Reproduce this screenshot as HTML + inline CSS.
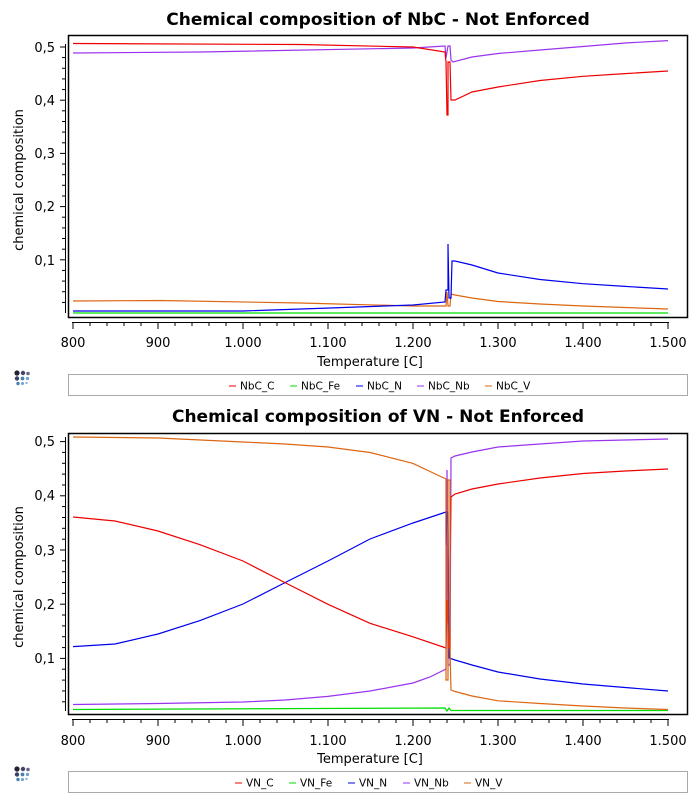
<!DOCTYPE html>
<html><head><meta charset="utf-8"><style>
html,body{margin:0;padding:0;background:#fff;}
svg{display:block;font-family:"DejaVu Sans","Liberation Sans",sans-serif;}
</style></head><body>
<svg width="697" height="802" viewBox="0 0 697 802" xmlns="http://www.w3.org/2000/svg">
<defs>
<g id="icon">
<circle cx="0" cy="0" r="2.6" fill="#223"/><circle cx="6" cy="0" r="2.2" fill="#446"/><circle cx="11" cy="0.5" r="1.8" fill="#668"/>
<circle cx="0" cy="5.5" r="2.2" fill="#346"/><circle cx="5.5" cy="5.5" r="1.9" fill="#4a7fb0"/><circle cx="10.5" cy="5.5" r="1.6" fill="#6a9fd0"/>
<circle cx="1" cy="10.5" r="1.7" fill="#4a7fb0"/><circle cx="5.5" cy="10.5" r="1.5" fill="#6a9fd0"/><circle cx="9.5" cy="10" r="1.2" fill="#8ab8e0"/>
</g>
</defs>

<!-- ===== TOP CHART ===== -->
<text x="378" y="25" text-anchor="middle" font-size="17" font-weight="bold">Chemical composition of NbC - Not Enforced</text>
<rect x="68.5" y="35.5" width="619" height="282" fill="none" stroke="#000" stroke-width="1.5"/>
<g stroke="#000" stroke-width="1">
<line x1="65.5" y1="44" x2="65.5" y2="313"/>
<line x1="60" y1="47" x2="65" y2="47"/><line x1="60" y1="100.2" x2="65" y2="100.2"/><line x1="60" y1="153.4" x2="65" y2="153.4"/><line x1="60" y1="206.6" x2="65" y2="206.6"/><line x1="60" y1="259.8" x2="65" y2="259.8"/>
<line x1="62" y1="57.6" x2="65" y2="57.6"/><line x1="62" y1="68.3" x2="65" y2="68.3"/><line x1="62" y1="78.9" x2="65" y2="78.9"/><line x1="62" y1="89.6" x2="65" y2="89.6"/>
<line x1="62" y1="110.8" x2="65" y2="110.8"/><line x1="62" y1="121.5" x2="65" y2="121.5"/><line x1="62" y1="132.1" x2="65" y2="132.1"/><line x1="62" y1="142.8" x2="65" y2="142.8"/>
<line x1="62" y1="164" x2="65" y2="164"/><line x1="62" y1="174.7" x2="65" y2="174.7"/><line x1="62" y1="185.3" x2="65" y2="185.3"/><line x1="62" y1="196" x2="65" y2="196"/>
<line x1="62" y1="217.2" x2="65" y2="217.2"/><line x1="62" y1="227.9" x2="65" y2="227.9"/><line x1="62" y1="238.5" x2="65" y2="238.5"/><line x1="62" y1="249.2" x2="65" y2="249.2"/>
<line x1="62" y1="270.4" x2="65" y2="270.4"/><line x1="62" y1="281.1" x2="65" y2="281.1"/><line x1="62" y1="291.7" x2="65" y2="291.7"/><line x1="62" y1="302.4" x2="65" y2="302.4"/>
<line x1="72" y1="322.5" x2="669" y2="322.5"/>
</g>
<g id="xt" stroke="#000" stroke-width="1">
<path d="M73 322v7M158 322v7M243 322v7M328 322v7M413 322v7M498 322v7M583 322v7M668 322v7"/>
<path d="M90 322v4M107 322v4M124 322v4M141 322v4M175 322v4M192 322v4M209 322v4M226 322v4M260 322v4M277 322v4M294 322v4M311 322v4M345 322v4M362 322v4M379 322v4M396 322v4M430 322v4M447 322v4M464 322v4M481 322v4M515 322v4M532 322v4M549 322v4M566 322v4M600 322v4M617 322v4M634 322v4M651 322v4"/>
</g>
<g font-size="13" text-anchor="end">
<text x="55" y="52">0,5</text><text x="55" y="105">0,4</text><text x="55" y="158">0,3</text><text x="55" y="211">0,2</text><text x="55" y="265">0,1</text>
</g>
<g font-size="13" text-anchor="middle">
<text x="73" y="347">800</text><text x="158" y="347">900</text><text x="243" y="347">1.000</text><text x="328" y="347">1.100</text><text x="413" y="347">1.200</text><text x="498" y="347">1.300</text><text x="583" y="347">1.400</text><text x="668" y="347">1.500</text>
<text x="370" y="366">Temperature [C]</text>
</g>
<text transform="translate(23,180) rotate(-90)" font-size="13" text-anchor="middle">chemical composition</text>
<g fill="none" stroke-width="1.2">
<polyline stroke="#00dd00" points="73,313 668,313"/>
<polyline stroke="#dd6611" points="73,301 160,300.5 300,303 413,306 446,306 447,292 448,306 450,306 451,294 455,295 472,298 498,301.5 540,304 583,306 625,307.5 668,309"/>
<polyline stroke="#0000ee" points="73,311 243,311 330,308 413,305 445,302 446,290 448,290 448,244 449,298 451,298 452,261 455,261 472,265 498,273 540,279.5 583,283.7 625,286.4 668,289"/>
<polyline stroke="#9933ee" points="73,53 200,52 413,48 445,46 446,58 448,46 450,46 451,60 453,62 472,57 498,53.5 540,50 583,46.5 625,43 668,40.6"/>
<polyline stroke="#ee0000" points="73,43.5 300,44.5 413,47 445,52 446,62 447,115 448,115 448,62 450,62 451,100 455,100 472,92 498,87 540,80.5 583,76.3 625,73.6 668,71"/>
</g>
<use href="#icon" x="17" y="373"/>
<rect x="68.5" y="374.5" width="619" height="21" fill="#fff" stroke="#aaa"/>
<g font-size="10.5">
<line x1="229" y1="386" x2="236" y2="386" stroke="#ee0000"/><text x="240" y="389.5">NbC_C</text>
<line x1="290" y1="386" x2="297" y2="386" stroke="#00dd00"/><text x="301" y="389.5">NbC_Fe</text>
<line x1="356" y1="386" x2="363" y2="386" stroke="#0000ee"/><text x="367" y="389.5">NbC_N</text>
<line x1="417" y1="386" x2="424" y2="386" stroke="#9933ee"/><text x="428" y="389.5">NbC_Nb</text>
<line x1="485" y1="386" x2="492" y2="386" stroke="#dd6611"/><text x="496" y="389.5">NbC_V</text>
</g>

<!-- ===== BOTTOM CHART ===== -->
<text x="378" y="422" text-anchor="middle" font-size="17" font-weight="bold">Chemical composition of VN - Not Enforced</text>
<rect x="68.5" y="433.5" width="619" height="281" fill="none" stroke="#000" stroke-width="1.5"/>
<g stroke="#000" stroke-width="1">
<line x1="65.5" y1="437" x2="65.5" y2="711"/>
<line x1="60" y1="441.6" x2="65" y2="441.6"/><line x1="60" y1="495.8" x2="65" y2="495.8"/><line x1="60" y1="550" x2="65" y2="550"/><line x1="60" y1="604.2" x2="65" y2="604.2"/><line x1="60" y1="658.4" x2="65" y2="658.4"/>
<line x1="62" y1="452.4" x2="65" y2="452.4"/><line x1="62" y1="463.3" x2="65" y2="463.3"/><line x1="62" y1="474.1" x2="65" y2="474.1"/><line x1="62" y1="485" x2="65" y2="485"/>
<line x1="62" y1="506.6" x2="65" y2="506.6"/><line x1="62" y1="517.5" x2="65" y2="517.5"/><line x1="62" y1="528.3" x2="65" y2="528.3"/><line x1="62" y1="539.2" x2="65" y2="539.2"/>
<line x1="62" y1="560.8" x2="65" y2="560.8"/><line x1="62" y1="571.7" x2="65" y2="571.7"/><line x1="62" y1="582.5" x2="65" y2="582.5"/><line x1="62" y1="593.4" x2="65" y2="593.4"/>
<line x1="62" y1="615" x2="65" y2="615"/><line x1="62" y1="625.9" x2="65" y2="625.9"/><line x1="62" y1="636.7" x2="65" y2="636.7"/><line x1="62" y1="647.6" x2="65" y2="647.6"/>
<line x1="62" y1="669.2" x2="65" y2="669.2"/><line x1="62" y1="680.1" x2="65" y2="680.1"/><line x1="62" y1="690.9" x2="65" y2="690.9"/><line x1="62" y1="701.8" x2="65" y2="701.8"/>
<line x1="72" y1="719.5" x2="669" y2="719.5"/>
</g>
<use href="#xt" x="0" y="397"/>
<g font-size="13" text-anchor="end">
<text x="55" y="446">0,5</text><text x="55" y="500">0,4</text><text x="55" y="555">0,3</text><text x="55" y="609">0,2</text><text x="55" y="663">0,1</text>
</g>
<g font-size="13" text-anchor="middle">
<text x="73" y="745">800</text><text x="158" y="745">900</text><text x="243" y="745">1.000</text><text x="328" y="745">1.100</text><text x="413" y="745">1.200</text><text x="498" y="745">1.300</text><text x="583" y="745">1.400</text><text x="668" y="745">1.500</text>
<text x="370" y="763">Temperature [C]</text>
</g>
<text transform="translate(23,577) rotate(-90)" font-size="13" text-anchor="middle">chemical composition</text>
<g fill="none" stroke-width="1.2">
<polyline stroke="#00dd00" points="73,709.5 445,708 447,711 449,708 451,710.5 668,710.5"/>
<polyline stroke="#9933ee" points="73,704.5 158,703.5 243,702 285,700 328,696.4 370,691 413,683 430,677 446,669 447,470 448,665 450,665 451,458 455,456 472,452 498,447 540,444 583,441 625,440 668,439"/>
<polyline stroke="#0000ee" points="73,646.6 115,644 158,634 200,620.6 243,604 285,582.6 328,561 370,539 413,523 446,512 446,545 447,512 448,512 449,658 455,660 472,665 498,672 540,679 583,684 625,687.5 668,691"/>
<polyline stroke="#ee0000" points="73,517 115,521 158,531 200,544.7 243,561 285,582.6 328,604.3 370,623.3 413,636.8 446,648 447,600 449,648 450,648 450,560 451,497 455,494 472,489 498,484 540,478 583,473.5 625,471 668,469"/>
<polyline stroke="#dd6611" points="73,437 158,438 243,442 285,444 328,447 370,452.5 413,463.4 430,471.5 446,479 446,680 448,680 448,480 450,480 450,650 451,690 455,691.5 472,696 498,700.8 540,703.5 583,706 625,708 668,709.5"/>
</g>
<use href="#icon" x="17" y="769"/>
<rect x="68.5" y="771.5" width="619" height="21" fill="#fff" stroke="#aaa"/>
<g font-size="10.5">
<line x1="235" y1="783" x2="242" y2="783" stroke="#ee0000"/><text x="246" y="786.5">VN_C</text>
<line x1="289" y1="783" x2="296" y2="783" stroke="#00dd00"/><text x="300" y="786.5">VN_Fe</text>
<line x1="348" y1="783" x2="355" y2="783" stroke="#0000ee"/><text x="359" y="786.5">VN_N</text>
<line x1="403" y1="783" x2="410" y2="783" stroke="#9933ee"/><text x="414" y="786.5">VN_Nb</text>
<line x1="464" y1="783" x2="471" y2="783" stroke="#dd6611"/><text x="475" y="786.5">VN_V</text>
</g>
</svg>
</body></html>
